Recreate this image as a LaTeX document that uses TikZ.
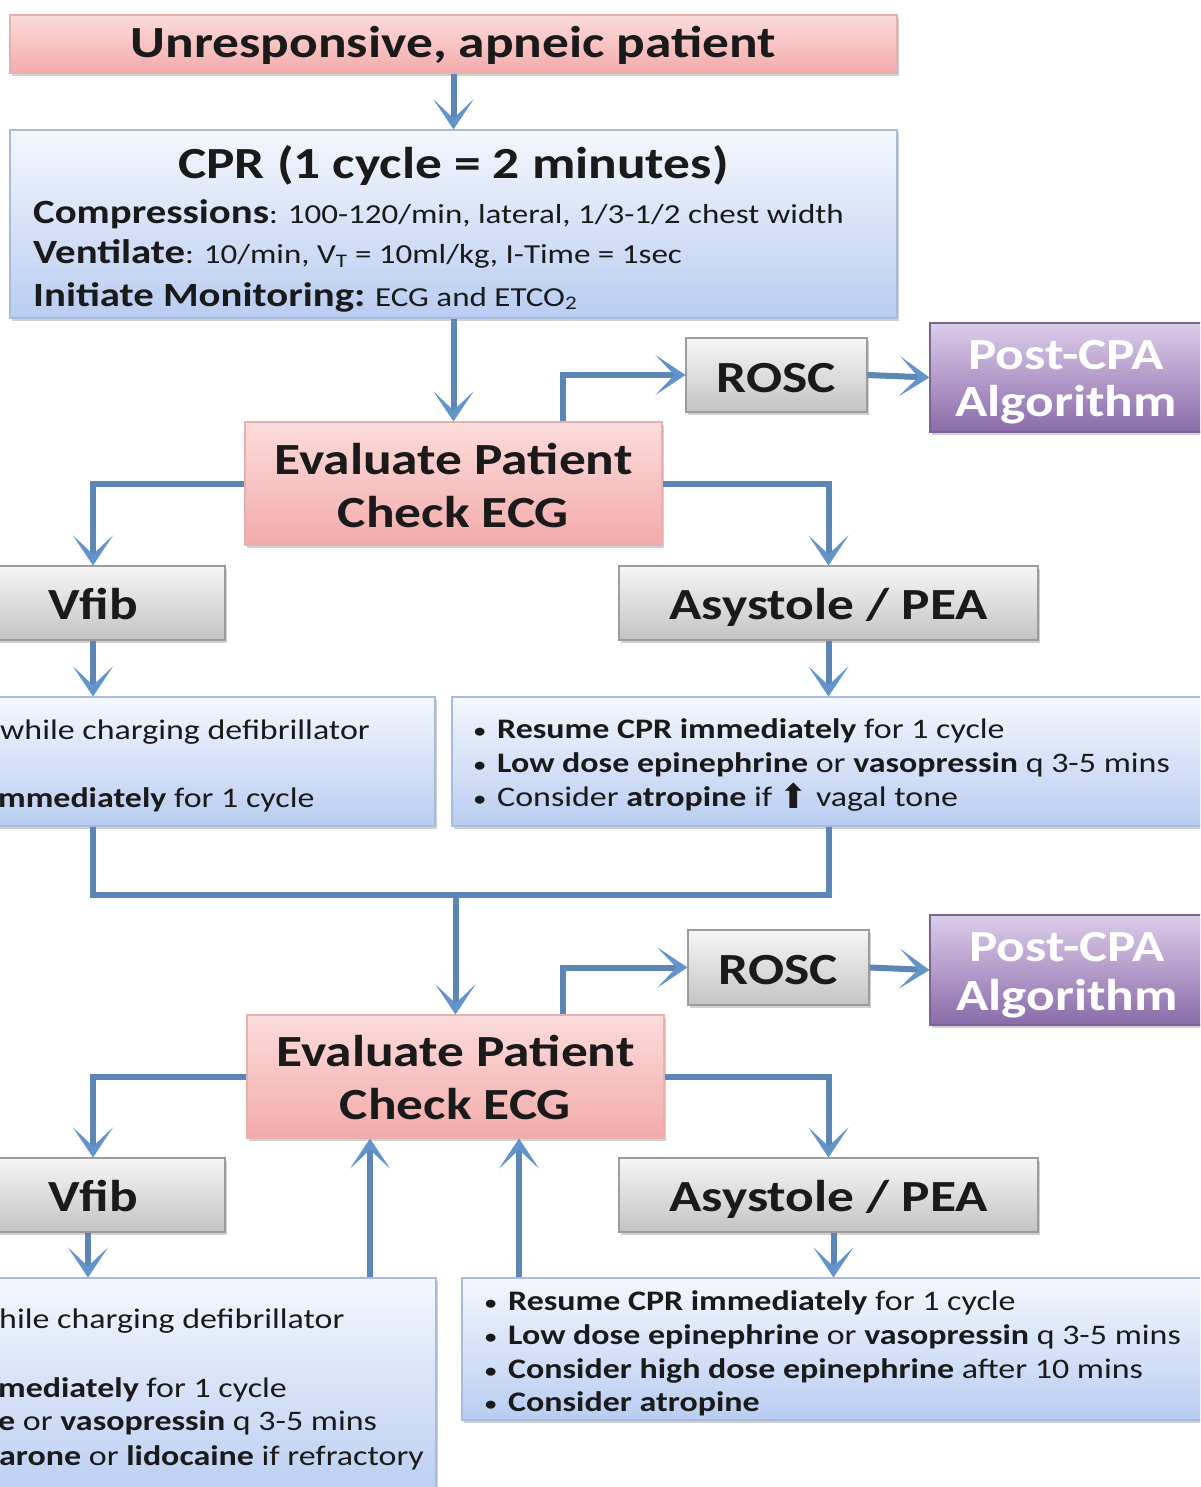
\documentclass[tikz,border=0pt]{standalone}
\usepackage{fontspec}
\setmainfont{Carlito}[FakeStretch=1.2]
\newfontfamily\symfont{DejaVu Sans}
\usetikzlibrary{arrows.meta,shadows,calc}
\definecolor{txt}{HTML}{1A1A1A}
\definecolor{pinkT}{HTML}{FBDCDA}
\definecolor{pinkB}{HTML}{F3ABAB}
\definecolor{pinkD}{HTML}{E4B0B0}
\definecolor{blueT}{HTML}{F4F7FD}
\definecolor{blueB}{HTML}{B9CDF1}
\definecolor{blueD}{HTML}{A7BCDD}
\definecolor{grayT}{HTML}{F6F6F6}
\definecolor{grayB}{HTML}{C4C4C4}
\definecolor{grayD}{HTML}{9C9C9C}
\definecolor{purT}{HTML}{DCCDEA}
\definecolor{purB}{HTML}{8A6BA9}
\definecolor{purD}{HTML}{7C6396}
\definecolor{lineC}{HTML}{5B86B5}
\definecolor{headC}{HTML}{6293CB}
\newcommand{\mylab}[1]{{\fontsize{34}{40}\selectfont\bfseries #1}}
\newcommand{\bul}{\makebox[23pt][l]{\raisebox{1pt}{\fontsize{19}{20}\selectfont\bfseries •}}}
\tikzset{
  boxbase/.style={rectangle, inner sep=0pt, line width=1.2pt,
    drop shadow={shadow xshift=2pt, shadow yshift=-3pt, opacity=0.18, fill=black}},
  pinkbox/.style={boxbase, top color=pinkT, bottom color=pinkB, draw=pinkD},
  bluebox/.style={boxbase, top color=blueT, bottom color=blueB, draw=blueD},
  graybox/.style={boxbase, top color=grayT, bottom color=grayB, draw=grayD},
  purbox/.style={boxbase, top color=purT, bottom color=purB, draw=purD},
  hd/.style={font=\fontsize{44.5}{50}\selectfont\bfseries, text=txt, inner sep=0pt, anchor=base},
  ptxt/.style={hd, text=white},
  ln/.style={font=\fontsize{27.5}{33}\selectfont, text=txt, inner sep=0pt, anchor=base west},
  bl/.style={font=\fontsize{28.3}{34}\selectfont, text=txt, inner sep=0pt, anchor=base west},
  link/.style={draw=lineC, line width=6pt},
  conn/.style={link, -{Stealth[length=30pt, width=40pt, inset=19pt, line width=0.5pt, color=headC]}},
}
\begin{document}
\begin{tikzpicture}[x=1pt,y=-1pt]
\path[use as bounding box] (0,0) rectangle (1200,1487);
\clip (0,0) rectangle (1200,1487);
\fill[white] (0,0) rectangle (1200,1487);

% ---------- top ----------
\node[pinkbox, minimum width=887pt, minimum height=58pt] (top) at (453.5,44) {};
\node[hd] (ttop) at (453.5,58) {Unresponsive, apneic patient};

\node[bluebox, minimum width=887pt, minimum height=188pt] (cpr) at (453.5,224) {};
\node[hd] (tcpr) at (453.5,179) {CPR (1 cycle = 2 minutes)};
\node[ln] (tc1) at (33,224) {\mylab{Compressions}: 100-120/min, lateral, 1/3-1/2 chest width};
\node[ln] (tc2) at (33,264) {\mylab{Ventilate}: 10/min, V\textsubscript{T} = 10ml/kg, I-Time = 1sec};
\node[ln] (tc3) at (33,306) {\mylab{Initiate Monitoring:} ECG and ETCO\textsubscript{2}};

% ---------- section 1 ----------
\node[pinkbox, minimum width=417pt, minimum height=123pt] (eval1) at (453.5,483.5) {};
\node[hd] (te1a) at (453.5,474) {Evaluate Patient};
\node[hd] (te1b) at (453.5,527) {Check ECG};

\node[graybox, minimum width=181pt, minimum height=74pt] (rosc1) at (776.5,375) {};
\node[hd] (tr1) at (776.5,392) {ROSC};

\node[purbox, minimum width=290pt, minimum height=109pt] (post1) at (1075,377.5) {};
\node[ptxt] (tp1a) at (1066,369) {Post-CPA};
\node[ptxt] (tp1b) at (1066,416) {Algorithm};

\node[graybox, minimum width=264pt, minimum height=74pt] (vfib1) at (93,603) {};
\node[hd] (tv1) at (93,619) {Vfib};

\node[graybox, minimum width=419pt, minimum height=74pt] (asys1) at (828.5,603) {};
\node[hd] (ta1) at (828.5,619) {Asystole / PEA};

\node[bluebox, minimum width=445pt, minimum height=129pt] (left1) at (212.5,761.5) {};
\node[bl] (tl1a) at (0,739) {while charging defibrillator};
\node[bl] (tl1b) at (-2,807) {\textbf{mmediately} for 1 cycle};

\node[bluebox, minimum width=758pt, minimum height=129pt] (right1) at (831,761.5) {};
\node[bl] (tr1a) at (474,738) {\bul\textbf{Resume CPR immediately} for 1 cycle};
\node[bl] (tr1b) at (474,772) {\bul\textbf{Low dose epinephrine} or \textbf{vasopressin} q 3-5 mins};
\node[bl] (tr1c) at (474,806) {\bul Consider \textbf{atropine} if {\symfont\fontsize{34}{34}\selectfont\raisebox{-2pt}{⬆}} vagal tone};

\draw[conn] (top.south) -- (cpr.north);
\draw[conn] (cpr.south) -- (eval1.north);
\draw[conn] ([xshift=109.5pt]eval1.north) |- (rosc1.west);
\draw[conn] (rosc1.east) -- (post1.west);
\draw[conn] (eval1.west) -| (vfib1.north);
\draw[conn] (eval1.east) -| (asys1.north);
\draw[conn] (vfib1.south) -- (vfib1.south |- left1.north);
\draw[conn] (asys1.south) -- (asys1.south |- right1.north);

\coordinate (merge) at (455.5,895);
\draw[link] (vfib1.south |- left1.south) |- (merge) -| (asys1.south |- right1.south);

% ---------- section 2 ----------
\node[pinkbox, minimum width=417pt, minimum height=123pt] (eval2) at (455.5,1076.5) {};
\node[hd] (te2a) at (455.5,1066) {Evaluate Patient};
\node[hd] (te2b) at (455.5,1119) {Check ECG};

\node[graybox, minimum width=181pt, minimum height=75pt] (rosc2) at (778.5,967.5) {};
\node[hd] (tr2) at (778.5,984) {ROSC};

\node[purbox, minimum width=290pt, minimum height=110pt] (post2) at (1075,970) {};
\node[ptxt] (tp2a) at (1067,961) {Post-CPA};
\node[ptxt] (tp2b) at (1067,1010) {Algorithm};

\node[graybox, minimum width=264pt, minimum height=74pt] (vfib2) at (93,1195) {};
\node[hd] (tv2) at (93,1211) {Vfib};

\node[graybox, minimum width=419pt, minimum height=74pt] (asys2) at (828.5,1195) {};
\node[hd] (ta2) at (828.5,1211) {Asystole / PEA};

\node[bluebox, minimum width=446pt, minimum height=222pt] (left2) at (213,1389) {};
\node[bl] (tl2a) at (-1,1328) {hile charging defibrillator};
\node[bl] (tl2b) at (-2,1397) {\textbf{mediately} for 1 cycle};
\node[bl] (tl2c) at (-2,1430) {\textbf{e} or \textbf{vasopressin} q 3-5 mins};
\node[bl] (tl2d) at (-1,1465) {\textbf{arone} or \textbf{lidocaine} if refractory};

\node[bluebox, minimum width=748pt, minimum height=142pt] (right2) at (836,1349) {};
\node[bl] (tr2a) at (485,1310) {\bul\textbf{Resume CPR immediately} for 1 cycle};
\node[bl] (tr2b) at (485,1344) {\bul\textbf{Low dose epinephrine} or \textbf{vasopressin} q 3-5 mins};
\node[bl] (tr2c) at (485,1378) {\bul\textbf{Consider high dose epinephrine} after 10 mins};
\node[bl] (tr2d) at (485,1411) {\bul\textbf{Consider atropine}};

\draw[conn] (merge) -- (eval2.north);
\draw[conn] ([xshift=107.5pt]eval2.north) |- (rosc2.west);
\draw[conn] (rosc2.east) -- (post2.west);
\draw[conn] (eval2.west) -| (vfib2.north);
\draw[conn] (eval2.east) -| (asys2.north);
\draw[conn] ([xshift=-5pt]vfib2.south) -- ([xshift=-5pt]vfib2.south |- left2.north);
\draw[conn] ([xshift=5pt]asys2.south) -- ([xshift=5pt]asys2.south |- right2.north);
\draw[conn] ([xshift=-85.5pt]eval2.south |- left2.north) -- ([xshift=-85.5pt]eval2.south);
\draw[conn] ([xshift=63.5pt]eval2.south |- right2.north) -- ([xshift=63.5pt]eval2.south);
\end{tikzpicture}
\end{document}
